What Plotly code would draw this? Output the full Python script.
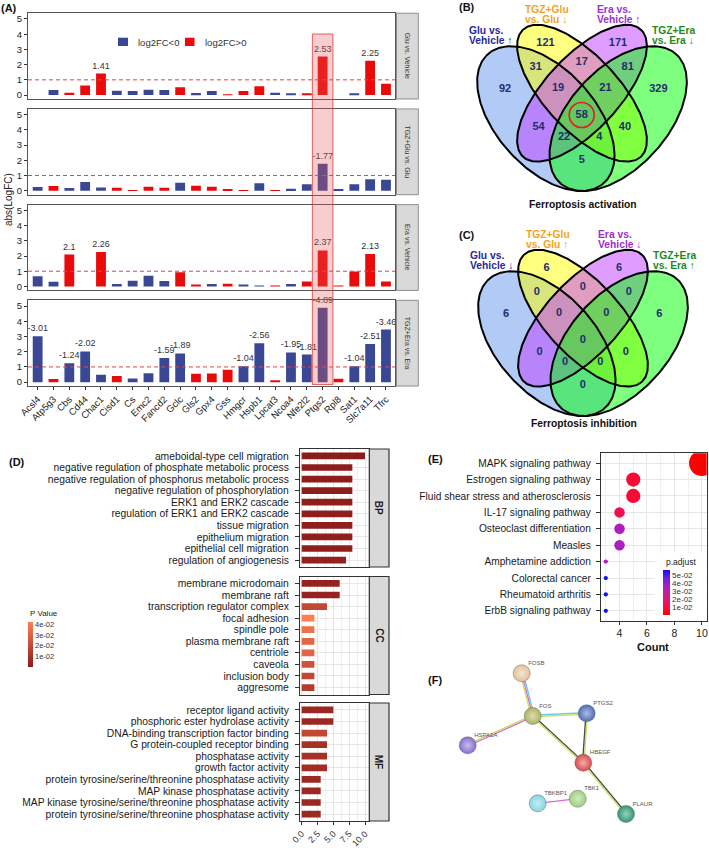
import numpy as np
import plotly.graph_objects as go

W, H = 709, 848
FONT = "Liberation Sans, Arial, Helvetica, sans-serif"


def PX(x):
    return x / W


def PY(y):
    return 1 - y / H


# ---------------- Panel A data ----------------
genes = ["Acsl4", "Atp5g3", "Cbs", "Cd44", "Chac1", "Cisd1", "Cs", "Emc2", "Fancd2", "Gclc", "Gls2", "Gpx4",
         "Gss", "Hmgcr", "Hspb1", "Lpcat3", "Ncoa4", "Nfe2l2", "Ptgs2", "Rpl8", "Sat1", "Slc7a11", "Tfrc"]
comparisons = ["Glu vs. Vehicle", "TGZ+Glu vs. Glu", "Era vs. Vehicle", "TGZ+Era vs. Era"]
lfc_glu_vs_vehicle = [0.0, -0.33, 0.15, 0.63, 1.41, -0.28, -0.26, -0.35, -0.33, 0.52, -0.13, -0.26, 0.04, 0.26,
                      0.57, -0.15, -0.11, 0.09, 2.53, 0.0, -0.08, 2.25, 0.75]
lfc_tgzglu_vs_glu = [-0.24, 0.31, -0.18, -0.58, -0.22, 0.20, 0.03, 0.27, 0.20, -0.53, 0.33, 0.27, 0.11, 0.03,
                     -0.49, 0.03, -0.13, -0.42, -1.77, -0.09, -0.42, -0.76, -0.73]
lfc_era_vs_vehicle = [-0.67, -0.31, 2.1, 0.0, 2.26, -0.16, -0.38, -0.71, -0.36, 0.93, 0.11, -0.16, 0.18, -0.09,
                      -0.02, 0.02, -0.16, 0.33, 2.37, 0.02, 0.98, 2.13, 0.33]
lfc_tgzera_vs_era = [-3.01, 0.2, -1.24, -2.02, -0.48, 0.41, -0.24, -0.59, -1.59, -1.89, 0.55, 0.57, 0.81, -1.04,
                     -2.56, 0.07, -1.95, -1.81, -4.89, 0.22, -1.04, -2.51, -3.46]
fc_threshold = 1
highlight_gene = "Ptgs2"

# ---------------- Panel B / C data ----------------
venn_regions = ["1", "2", "3", "4", "12", "23", "34", "14", "13", "24", "123", "234", "134", "124", "1234"]
venn_activation = [92, 121, 171, 329, 31, 17, 81, 5, 54, 40, 19, 21, 22, 4, 58]
venn_inhibition = [6, 6, 6, 6, 0, 0, 0, 0, 0, 0, 0, 0, 0, 0, 0]
set_labels_activation = [["Glu vs.", "Vehicle ↑"], ["TGZ+Glu", "vs. Glu ↓"], ["Era vs.", "Vehicle ↑"],
                         ["TGZ+Era", "vs. Era ↓"]]
set_labels_inhibition = [["Glu vs.", "Vehicle ↓"], ["TGZ+Glu", "vs. Glu ↑"], ["Era vs.", "Vehicle ↓"],
                         ["TGZ+Era", "vs. Era ↑"]]

# ---------------- Panel D data ----------------
bp_terms = ["ameboidal-type cell migration", "negative regulation of phosphate metabolic process",
            "negative regulation of phosphorus metabolic process", "negative regulation of phosphorylation",
            "ERK1 and ERK2 cascade", "regulation of ERK1 and ERK2 cascade", "tissue migration",
            "epithelium migration", "epithelial cell migration", "regulation of angiogenesis"]
bp_count = [10, 8, 8, 8, 8, 8, 8, 8, 8, 7]
bp_p = [0.0005, 0.001, 0.001, 0.001, 0.002, 0.002, 0.002, 0.002, 0.002, 0.003]
cc_terms = ["membrane microdomain", "membrane raft", "transcription regulator complex", "focal adhesion",
            "spindle pole", "plasma membrane raft", "centriole", "caveola", "inclusion body", "aggresome"]
cc_count = [6, 6, 4, 2, 2, 2, 2, 2, 2, 2]
cc_p = [0.004, 0.004, 0.02, 0.0425, 0.036, 0.032, 0.032, 0.024, 0.02, 0.014]
mf_terms = ["receptor ligand activity", "phosphoric ester hydrolase activity",
            "DNA-binding transcription factor binding", "G protein-coupled receptor binding",
            "phosphatase activity", "growth factor activity",
            "protein tyrosine/serine/threonine phosphatase activity", "MAP kinase phosphatase activity",
            "MAP kinase tyrosine/serine/threonine phosphatase activity",
            "protein tyrosine/serine/threonine phosphatase activity"]
mf_count = [5, 5, 4, 4, 4, 4, 3, 3, 3, 3]
mf_p = [0.006, 0.006, 0.02, 0.01, 0.01, 0.008, 0.006, 0.006, 0.006, 0.006]

# ---------------- Panel E data ----------------
kegg_terms = ["MAPK signaling pathway", "Estrogen signaling pathway", "Fluid shear stress and atherosclerosis",
              "IL-17 signaling pathway", "Osteoclast differentiation", "Measles", "Amphetamine addiction",
              "Colorectal cancer", "Rheumatoid arthritis", "ErbB signaling pathway"]
kegg_count = [10, 5, 5, 4, 4, 4, 3, 3, 3, 3]
kegg_padj = [0.0005, 0.008, 0.008, 0.013, 0.036, 0.036, 0.036, 0.057, 0.057, 0.057]

# ---------------- Panel F data ----------------
string_nodes = ["FOSB", "FOS", "PTGS2", "HSPA1A", "HBEGF", "TBKBP1", "TBK1", "PLAUR"]
node_x = [521.7, 532.7, 586.7, 467.7, 583.3, 537.7, 577.7, 626.0]
node_y = [673.3, 716.0, 713.3, 745.3, 762.7, 803.3, 798.7, 814.0]
string_edges = [("FOSB", "FOS", ["database", "experiments", "textmining"]),
                ("FOS", "PTGS2", ["database", "textmining"]),
                ("FOS", "HSPA1A", ["experiments", "textmining"]),
                ("FOS", "HBEGF", ["coexpression", "textmining"]),
                ("PTGS2", "HBEGF", ["textmining", "coexpression"]),
                ("HBEGF", "PLAUR", ["coexpression", "textmining"]),
                ("TBKBP1", "TBK1", ["experiments"])]

# ======================================================================
fig = go.Figure()
layout = {}
shapes = []
annotations = []


def ann(text, x, y, size=10, color="#111", bold=False, xanchor="center", angle=0):
    annotations.append(dict(text=text, x=PX(x), y=PY(y), xref="paper", yref="paper", showarrow=False,
                            xanchor=xanchor, yanchor="middle", textangle=angle,
                            font=dict(size=size, color=color, family=FONT, weight="bold" if bold else "normal")))


# ---------------- Panel A ----------------
BLUE, RED = "#3A4794", "#EA0A0A"
series = [lfc_glu_vs_vehicle, lfc_tgzglu_vs_glu, lfc_era_vs_vehicle, lfc_tgzera_vs_era]
a_top = [13.2, 108.9, 204.6, 300.3]
a_h = 85.8
xs = np.arange(len(genes))
for i, vals in enumerate(series):
    n = "" if i == 0 else str(i + 1)
    v = np.asarray(vals, float)
    mag = np.abs(v)
    labels = np.array([f"{x:g}" if abs(x) > fc_threshold else "" for x in v])
    for mask, col in [(v < 0, BLUE), (v >= 0, RED)]:
        fig.add_trace(go.Bar(x=xs[mask], y=mag[mask], width=0.62, marker=dict(color=col, line=dict(width=0)),
                             text=labels[mask], textposition="outside", textangle=0, constraintext="none",
                             textfont=dict(size=9, color="#333333", family=FONT), cliponaxis=False,
                             xaxis="x" + n, yaxis="y" + n, showlegend=False, hoverinfo="skip"))
    top = a_top[i]
    layout["xaxis" + n] = dict(domain=[PX(28), PX(395)], range=[-0.61, 22.57], anchor="y" + n,
                               tickmode="array", tickvals=list(xs), ticktext=genes, showticklabels=(i == 3),
                               ticks="outside" if i == 3 else "", ticklen=3, tickcolor="#333", tickangle=-45,
                               tickfont=dict(size=9.5, color="#222", family=FONT), showline=True, mirror=True,
                               linecolor="#555", linewidth=1, showgrid=False, zeroline=False)
    layout["yaxis" + n] = dict(domain=[PY(top + a_h), PY(top)], range=[-0.26, 5.38], anchor="x" + n,
                               tickmode="array", tickvals=[0, 1, 2, 3, 4, 5], ticks="outside", ticklen=3,
                               tickcolor="#333", tickfont=dict(size=9.5, color="#222", family=FONT),
                               showline=True, mirror=True, linecolor="#555", linewidth=1, showgrid=False,
                               zeroline=False)
    shapes.append(dict(type="line", xref=f"x{n} domain", yref="y" + n, x0=0, x1=1, y0=fc_threshold,
                       y1=fc_threshold, line=dict(color="#D84848", width=1, dash="4px,3px")))
    shapes.append(dict(type="rect", xref="paper", yref="paper", x0=PX(396.5), x1=PX(418.3), y0=PY(top + a_h),
                       y1=PY(top), fillcolor="#D9D9D9", line=dict(color="#777", width=0.8)))
    ann(comparisons[i], 407.4, top + a_h / 2, size=7, color="#333", angle=90)

hi = genes.index(highlight_gene)
shapes.append(dict(type="rect", xref="x", yref="paper", x0=hi - 0.65, x1=hi + 0.65, y0=PY(384.5), y1=PY(34),
                   fillcolor="rgba(228,90,90,0.30)", line=dict(color="rgba(220,50,50,0.75)", width=1),
                   layer="above"))
# legend
shapes.append(dict(type="rect", xref="paper", yref="paper", x0=PX(118), x1=PX(128), y0=PY(46), y1=PY(37.7),
                   fillcolor=BLUE, line=dict(width=0)))
shapes.append(dict(type="rect", xref="paper", yref="paper", x0=PX(185), x1=PX(194.5), y0=PY(46), y1=PY(37.7),
                   fillcolor=RED, line=dict(width=0)))
ann("log2FC<0", 136, 42, size=9.5, color="#333", xanchor="left")
ann("log2FC>0", 202.5, 42, size=9.5, color="#333", xanchor="left")
ann("abs(LogFC)", 8, 200, size=10, color="#222", angle=-90)
ann("(A)", 9, 8, size=11, bold=True)

# ---------------- Panel D ----------------
d_dom = [(449.0, 567.0), (576.5, 694.5), (703.0, 821.0)]
go_sets = [("BP", bp_terms, bp_count, bp_p), ("CC", cc_terms, cc_count, cc_p), ("MF", mf_terms, mf_count, mf_p)]
for j, (lab, terms, cnt, pv) in enumerate(go_sets):
    k = str(5 + j)
    pos = list(range(len(terms)))
    fig.add_trace(go.Bar(x=cnt, y=pos, orientation="h", width=0.58,
                         marker=dict(color=pv, coloraxis="coloraxis", line=dict(width=0)),
                         xaxis="x" + k, yaxis="y" + k, showlegend=False, hoverinfo="skip"))
    top, bot = d_dom[j]
    layout["xaxis" + k] = dict(domain=[PX(300), PX(369.3)], range=[-0.27, 10.68], anchor="y" + k,
                               tick0=0, dtick=2.5, tickformat=".1f", showticklabels=(j == 2),
                               ticks="outside" if j == 2 else "", ticklen=3, tickcolor="#333", tickangle=-45,
                               tickfont=dict(size=9, color="#333", family=FONT), showgrid=True,
                               gridcolor="#E6E6E6", gridwidth=1,
                               minor=dict(dtick=1.25, showgrid=True, gridcolor="#F0F0F0", gridwidth=0.6),
                               showline=True, mirror=True, linecolor="#333", linewidth=1.2, zeroline=False)
    layout["yaxis" + k] = dict(domain=[PY(bot), PY(top)], range=[9.6, -0.6], anchor="x" + k,
                               tickmode="array", tickvals=pos, ticktext=terms, ticks="outside", ticklen=4,
                               ticklabelstandoff=4,
                               tickcolor="#333", tickfont=dict(size=10.3, color="#1A1A1A", family=FONT),
                               showgrid=True, gridcolor="#E6E6E6", showline=True, mirror=True,
                               linecolor="#333", linewidth=1.2, zeroline=False)
    shapes.append(dict(type="rect", xref="paper", yref="paper", x0=PX(369.3), x1=PX(389), y0=PY(bot),
                       y1=PY(top), fillcolor="#D9D9D9", line=dict(color="#333", width=1.2)))
    ann(lab, 379.3, (top + bot) / 2, size=10, color="#1A1A1A", bold=True, angle=90)
ann("(D)", 16.7, 462, size=11, bold=True)
ann("P Value", 28, 613, size=8, color="#222", xanchor="left")

# ---------------- Panel E ----------------
kc = np.asarray(kegg_count, float)
dot_size = np.sqrt(92 * (kc - 2.8))
fig.add_trace(go.Scatter(x=kegg_count, y=list(range(len(kegg_terms))), mode="markers",
                         marker=dict(size=dot_size, color=kegg_padj, coloraxis="coloraxis2", line=dict(width=0),
                                     opacity=1),
                         xaxis="x8", yaxis="y8", showlegend=False, hoverinfo="skip"))
layout["xaxis8"] = dict(domain=[PX(601), PX(706.7)], range=[2.65, 10.35], anchor="y8", tick0=0, dtick=2,
                        ticks="outside", ticklen=3, tickcolor="#333",
                        tickfont=dict(size=10.5, color="#222", family=FONT), showgrid=True, gridcolor="#E6E6E6",
                        minor=dict(dtick=1, showgrid=True, gridcolor="#F0F0F0", gridwidth=0.6),
                        showline=True, mirror=True, linecolor="#333", linewidth=1.2, zeroline=False)
layout["yaxis8"] = dict(domain=[PY(620.7), PY(453.3)], range=[9.6, -0.6], anchor="x8", tickmode="array",
                        tickvals=list(range(len(kegg_terms))), ticktext=kegg_terms, ticks="outside", ticklen=4,
                        ticklabelstandoff=3,
                        tickcolor="#333", tickfont=dict(size=10.2, color="#1A1A1A", family=FONT), showgrid=True,
                        gridcolor="#E6E6E6", showline=True, mirror=True, linecolor="#333", linewidth=1.2,
                        zeroline=False)
shapes.append(dict(type="rect", xref="paper", yref="paper", x0=PX(655), x1=PX(706), y0=PY(619.8), y1=PY(553),
                   fillcolor="white", line=dict(width=0), layer="above"))
ann("(E)", 435, 458.5, size=11, bold=True)
ann("Count", 653.3, 647, size=11, color="#111", bold=True)
ann("p.adjust", 664, 561.7, size=8.5, color="#222", xanchor="left")

# ---------------- Panels B / C (Venn) ----------------
venn_geom = [(0.35, 0.47, 0.35, 0.20, 135), (0.50, 0.57, 0.35, 0.15, 135),
             (0.50, 0.57, 0.35, 0.15, 45), (0.65, 0.47, 0.35, 0.20, 45)]
venn_fill = ["rgba(100,149,237,0.5)", "rgba(255,255,0,0.5)", "rgba(191,62,255,0.5)", "rgba(0,255,0,0.5)"]
set_colors = ["#28289A", "#F5A31A", "#9B30D0", "#1E8A1E"]
region_pos = {"1": (505, 89), "2": (545.5, 43), "3": (618, 43), "4": (658.4, 89), "12": (535.7, 67),
              "23": (581.7, 62), "34": (627.7, 67), "14": (581.7, 160), "13": (538.5, 127),
              "24": (624.9, 127), "123": (558, 88), "234": (605.4, 88), "134": (564, 137),
              "124": (599.4, 137), "1234": (581.7, 115)}
title_pos = [(467, 30.7, 40.3), (522.7, 9.3, 19.3), (595, 9.3, 19.3), (650, 30.7, 40.5)]
t = np.linspace(0, 2 * np.pi, 240)


def ellipse_px(cx, cy, a, b, rot, dx, dy):
    r = np.deg2rad(rot)
    u = cx + a * np.cos(t) * np.cos(r) - b * np.sin(t) * np.sin(r)
    v = cy + a * np.cos(t) * np.sin(r) + b * np.sin(t) * np.cos(r)
    return 582 + (u - 0.5) * 241 + dx, 118.6 - (v - 0.47) * 254 + dy


for (dx, dy, counts, setlab, title, ty) in [
        (0, 0, venn_activation, set_labels_activation, "Ferroptosis activation", 204),
        (1, 225, venn_inhibition, set_labels_inhibition, "Ferroptosis inhibition", 423)]:
    for g, fc in zip(venn_geom, venn_fill):
        ex, ey = ellipse_px(*g, dx, dy)
        fig.add_trace(go.Scatter(x=ex, y=ey, mode="lines", fill="toself", fillcolor=fc, line=dict(width=0),
                                 xaxis="x9", yaxis="y9", showlegend=False, hoverinfo="skip"))
    for g in venn_geom:
        ex, ey = ellipse_px(*g, dx, dy)
        fig.add_trace(go.Scatter(x=ex, y=ey, mode="lines", line=dict(width=2, color="black"),
                                 xaxis="x9", yaxis="y9", showlegend=False, hoverinfo="skip"))
    fig.add_trace(go.Scatter(x=[region_pos[r][0] + dx for r in venn_regions],
                             y=[region_pos[r][1] + dy for r in venn_regions],
                             text=[str(c) for c in counts], mode="text",
                             textfont=dict(size=11, color="#1F2D6B", family=FONT, weight="bold"),
                             xaxis="x9", yaxis="y9", showlegend=False, hoverinfo="skip"))
    for s in range(4):
        x0, y1, y2 = title_pos[s]
        ann(setlab[s][0], x0 + dx, y1 + dy, size=10.3, color=set_colors[s], bold=True, xanchor="left")
        ann(setlab[s][1], x0 + dx, y2 + dy, size=10.3, color=set_colors[s], bold=True, xanchor="left")
    ann(title, 583 + dx, ty, size=10.3, color="#111", bold=True)

shapes.append(dict(type="circle", xref="x9", yref="y9", x0=569.2, x1=594.2, y0=102.5, y1=127.5,
                   line=dict(color="#E02020", width=1.6)))
layout["xaxis9"] = dict(domain=[PX(440), 1], range=[440, 709], anchor="y9", visible=False)
layout["yaxis9"] = dict(domain=[PY(440), 1], range=[440, 0], anchor="x9", visible=False)
ann("(B)", 466.7, 7, size=11, bold=True)
ann("(C)", 466.7, 235, size=11, bold=True)

# ---------------- Panel F (network) ----------------
evidence_color = {"database": "#62C8EE", "experiments": "#DD66D8", "textmining": "#C6E05A",
                  "coexpression": "#4A4A4A"}
node_colors = ["#E3C49B", "#AEB45E", "#4F6EB8", "#8670D0", "#DC4B4B", "#86D6E2", "#9CD27E", "#2E9870"]


def lighten(hexc, f=0.55):
    h = hexc.lstrip("#")
    rgb = [int(h[i:i + 2], 16) for i in (0, 2, 4)]
    return "rgb(%d,%d,%d)" % tuple(int(c + (255 - c) * f) for c in rgb)


idx = {nm: i for i, nm in enumerate(string_nodes)}
for a, b, evs in string_edges:
    xa, ya = node_x[idx[a]], node_y[idx[a]]
    xb, yb = node_x[idx[b]], node_y[idx[b]]
    L = np.hypot(xb - xa, yb - ya)
    nx_, ny_ = -(yb - ya) / L, (xb - xa) / L
    m = len(evs)
    for q, ev in enumerate(evs):
        off = (q - (m - 1) / 2) * 1.5
        fig.add_trace(go.Scatter(x=[xa + nx_ * off, xb + nx_ * off], y=[ya + ny_ * off, yb + ny_ * off],
                                 mode="lines", line=dict(color=evidence_color[ev], width=1.3),
                                 xaxis="x10", yaxis="y10", showlegend=False, hoverinfo="skip"))
fig.add_trace(go.Scatter(x=node_x, y=node_y, mode="markers",
                         marker=dict(size=17, color=node_colors,
                                     gradient=dict(type="radial", color=[lighten(c) for c in node_colors]),
                                     line=dict(color="rgba(90,90,90,0.55)", width=0.8)),
                         xaxis="x10", yaxis="y10", showlegend=False, hoverinfo="skip"))
fig.add_trace(go.Scatter(x=[xv + 6.5 for xv in node_x], y=[yv - 10 for yv in node_y], text=string_nodes,
                         mode="text", textposition="middle right",
                         textfont=dict(size=6, color="#555", family=FONT),
                         xaxis="x10", yaxis="y10", showlegend=False, hoverinfo="skip"))
layout["xaxis10"] = dict(domain=[PX(440), 1], range=[440, 709], anchor="y10", visible=False)
layout["yaxis10"] = dict(domain=[0, PY(640)], range=[848, 640], anchor="x10", visible=False)
ann("(F)", 435, 680, size=11, bold=True)

# ---------------- colour axes ----------------
layout["coloraxis"] = dict(colorscale=[[0, "#8B1A1A"], [1, "#FF7F50"]], cmin=0.0001, cmax=0.0425,
                           colorbar=dict(x=PX(27.7), xanchor="left", y=PY(621.7), yanchor="top", len=45,
                                         lenmode="pixels", thickness=5, thicknessmode="pixels",
                                         tickmode="array", tickvals=[0.01, 0.02, 0.03, 0.04],
                                         ticktext=["1e-02", "2e-02", "3e-02", "4e-02"],
                                         tickfont=dict(size=7.5, color="#333", family=FONT), outlinewidth=0,
                                         xpad=0, ypad=0, ticks=""))
layout["coloraxis2"] = dict(colorscale=[[0, "#FF0000"], [0.15, "#F80A3C"], [0.3, "#E81466"],
                                        [0.5, "#C81C9C"], [0.65, "#A820C4"], [0.82, "#7020E0"],
                                        [1, "#1010FF"]], cmin=0.0003, cmax=0.057,
                            colorbar=dict(x=PX(663.3), xanchor="left", y=PY(570), yanchor="top", len=45,
                                          lenmode="pixels", thickness=7.4, thicknessmode="pixels",
                                          tickmode="array", tickvals=[0.01, 0.02, 0.03, 0.04, 0.05],
                                          ticktext=["1e-02", "2e-02", "3e-02", "4e-02", "5e-02"],
                                          tickfont=dict(size=8, color="#333", family=FONT), outlinewidth=0,
                                          xpad=0, ypad=0, ticks=""))

fig.update_layout(**layout)
fig.update_layout(width=W, height=H, margin=dict(l=0, r=0, t=0, b=0), template="none",
                  paper_bgcolor="white", plot_bgcolor="white", barmode="overlay", showlegend=False,
                  hovermode=False, font=dict(family=FONT, color="#222"), shapes=shapes,
                  annotations=annotations)
fig.write_html("out.html", config={"displayModeBar": False},
               post_script="document.body.style.margin='0px';document.body.style.overflow='hidden';")
